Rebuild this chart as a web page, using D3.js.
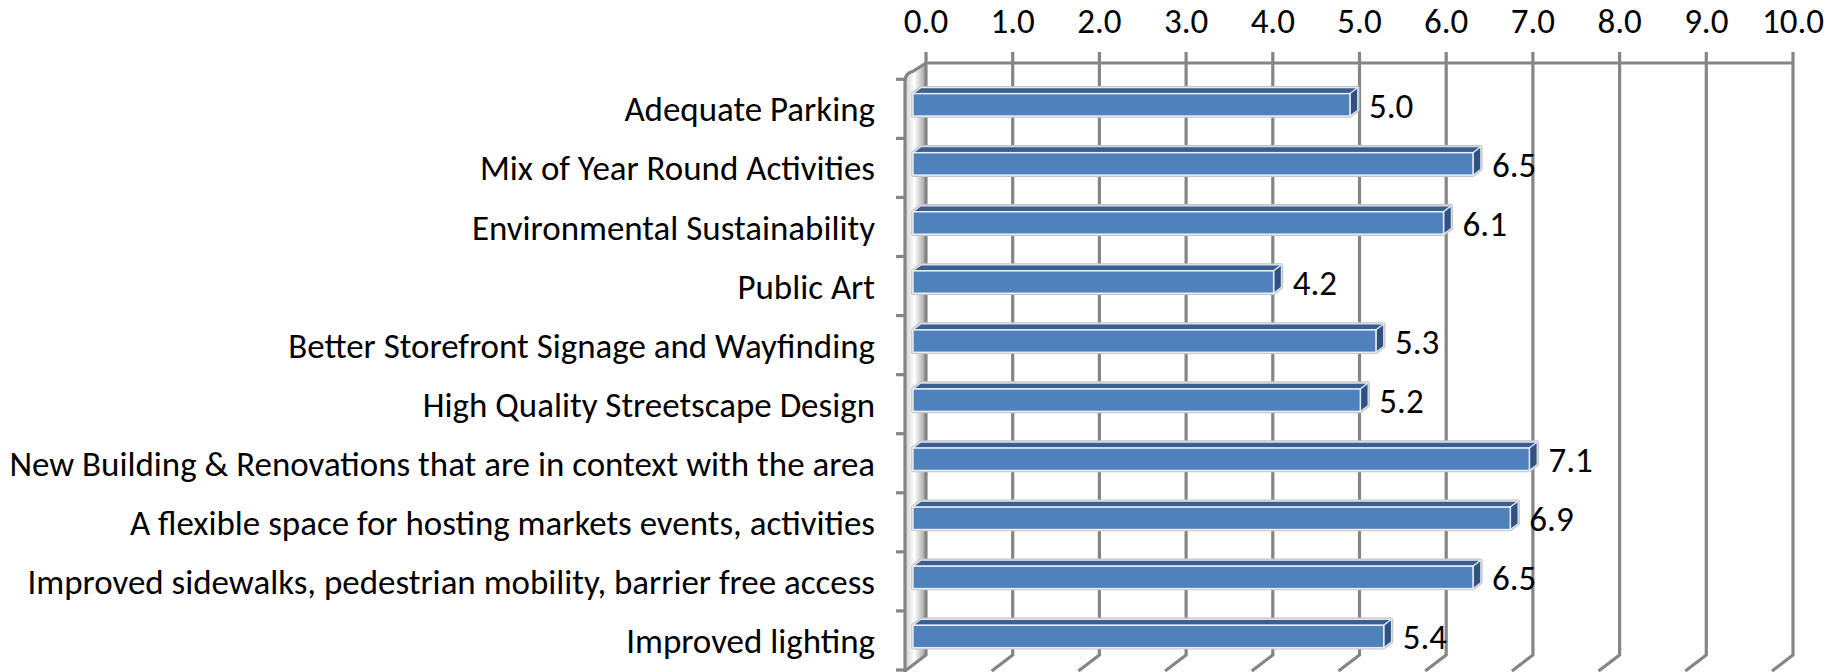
<!DOCTYPE html>
<html>
<head>
<meta charset="utf-8">
<script src="https://cdn.jsdelivr.net/npm/d3@7"></script>
<style>
  html, body { margin: 0; padding: 0; background: #ffffff; }
  svg { display: block; }
</style>
</head>
<body>
<svg id="chart" width="1841" height="672"></svg>
<script>
// ---- data ----
const categories = [
  "Adequate Parking",
  "Mix of Year Round Activities",
  "Environmental Sustainability",
  "Public Art",
  "Better Storefront Signage and Wayfinding",
  "High Quality Streetscape Design",
  "New Building & Renovations that are in context with the area",
  "A flexible space for hosting markets events, activities",
  "Improved sidewalks, pedestrian mobility, barrier free access",
  "Improved lighting"
];
const values = [5.04, 6.46, 6.12, 4.16, 5.34, 5.16, 7.11, 6.89, 6.46, 5.43];
const tickValues = [0, 1, 2, 3, 4, 5, 6, 7, 8, 9, 10];

// ---- layout ----
const FONT = "Carlito, Lato, 'Open Sans', sans-serif";
const backLeft = 926, backRight = 1793;
const depthX = 21, depthY = 16;
const backTop = 63, backBottom = 655;
const frontTop = 79.3, frontBottom = 670;
const gridColor = "#858585";
const numFs = 35;

const svg = d3.select("#chart");

const x = d3.scaleLinear().domain([0, 10]).range([backLeft, backRight]);
const y = d3.scaleBand().domain(categories).range([frontTop, frontBottom]).paddingInner(0.62).paddingOuter(0.31);
const yOuter = d3.scaleBand().domain(categories).range([frontTop, frontBottom]);

const defs = svg.append("defs");
const wallGrad = defs.append("linearGradient").attr("id", "wallGrad")
  .attr("x1", "0%").attr("x2", "100%").attr("y1", "0%").attr("y2", "0%");
wallGrad.append("stop").attr("offset", "0%").attr("stop-color", "#cfcfcf");
wallGrad.append("stop").attr("offset", "45%").attr("stop-color", "#ffffff");
wallGrad.append("stop").attr("offset", "100%").attr("stop-color", "#9c9c9c");

// ---- left wall ----
const fx0 = backLeft - depthX;
svg.append("path")
  .attr("d", `M${fx0},${frontTop - 2} L${backLeft},${backTop} L${backLeft},${backBottom} L${fx0},${backBottom + depthY} Z`)
  .attr("fill", "url(#wallGrad)");

// ---- gridlines (back wall) + floor diagonals ----
const grid = svg.append("g");
tickValues.forEach(v => {
  const gx = x(v);
  grid.append("path")
    .attr("d", `M${gx},${backTop - 11} L${gx},${backBottom} L${gx - depthX},${backBottom + depthY}`)
    .attr("fill", "none").attr("stroke", gridColor).attr("stroke-width", 3.2);
});
grid.append("line")
  .attr("x1", backLeft).attr("x2", backRight).attr("y1", backTop).attr("y2", backTop)
  .attr("stroke", gridColor).attr("stroke-width", 3.2);
grid.append("path")
  .attr("d", `M${fx0},${frontTop + 2} Q${fx0},${frontTop - 6} ${fx0 + 8},${frontTop - 8} L${backLeft},${backTop}`)
  .attr("fill", "none").attr("stroke", gridColor).attr("stroke-width", 3.2);

// tick labels (top)
svg.append("g").selectAll("text").data(tickValues).join("text")
  .attr("x", d => x(d)).attr("y", 33)
  .attr("text-anchor", "middle")
  .attr("font-family", FONT).attr("font-size", numFs).attr("fill", "#000")
  .text(d => d3.format(".1f")(d));

// ---- left category axis ----
const axisG = svg.append("g");
axisG.append("line")
  .attr("x1", fx0).attr("x2", fx0).attr("y1", frontTop).attr("y2", frontBottom + 2)
  .attr("stroke", gridColor).attr("stroke-width", 3.2);
const bounds = categories.map(c => yOuter(c)).concat([frontBottom]);
axisG.selectAll("line.tk").data(bounds).join("line").attr("class", "tk")
  .attr("x1", fx0 - 9).attr("x2", fx0).attr("y1", d => d).attr("y2", d => d)
  .attr("stroke", gridColor).attr("stroke-width", 3.2);

// category labels - fit font size to widest label
const labelRight = 875;
const probe = svg.append("text").attr("font-family", FONT).attr("font-size", 32)
  .text(categories[6]);
const pw = probe.node().getComputedTextLength();
probe.remove();
const catFs = Math.min(40, 32 * 866 / pw);
svg.append("g").selectAll("text").data(categories).join("text")
  .attr("x", labelRight)
  .attr("y", d => yOuter(d) + yOuter.bandwidth() / 2 + catFs * 0.36)
  .attr("text-anchor", "end")
  .attr("font-family", FONT).attr("font-size", catFs).attr("fill", "#000")
  .text(d => d);

// ---- bars ----
const f1 = 0.38, fd = 0.37;
const bh = y.bandwidth();
const bx0 = fx0 + f1 * depthX;
const ddx = fd * depthX, ddy = -fd * depthY;
const bars = svg.append("g");
categories.forEach((c, i) => {
  const v = values[i];
  const cy = y(c) + bh / 2 - 4;
  const top = cy - bh / 2, bot = cy + bh / 2;
  const x1 = x(v) - depthX + f1 * depthX;
  const g = bars.append("g");
  g.append("path")
    .attr("d", `M${bx0},${bot} L${bx0},${top} L${bx0 + ddx},${top + ddy} L${x1 + ddx},${top + ddy} L${x1 + ddx},${bot + ddy} L${x1},${bot} Z`)
    .attr("fill", "none").attr("stroke", "#c4c4c4").attr("stroke-width", 3.5).attr("stroke-linejoin", "round");
  g.append("path")
    .attr("d", `M${bx0},${top} L${bx0 + ddx},${top + ddy} L${x1 + ddx},${top + ddy} L${x1},${top} Z`)
    .attr("fill", "#3a5f8f").attr("stroke", "#dfe6f0").attr("stroke-width", 1.2);
  g.append("path")
    .attr("d", `M${x1},${top} L${x1 + ddx},${top + ddy} L${x1 + ddx},${bot + ddy} L${x1},${bot} Z`)
    .attr("fill", "#2f5282").attr("stroke", "#dfe6f0").attr("stroke-width", 1.2);
  g.append("rect")
    .attr("x", bx0).attr("y", top).attr("width", x1 - bx0).attr("height", bh)
    .attr("fill", "#4f81bd").attr("stroke", "#e8eef6").attr("stroke-width", 1.5);
  g.append("text")
    .attr("x", x1 + 19).attr("y", cy + 13)
    .attr("font-family", FONT).attr("font-size", numFs).attr("fill", "#000")
    .text(d3.format(".1f")(v));
});
</script>
</body>
</html>
